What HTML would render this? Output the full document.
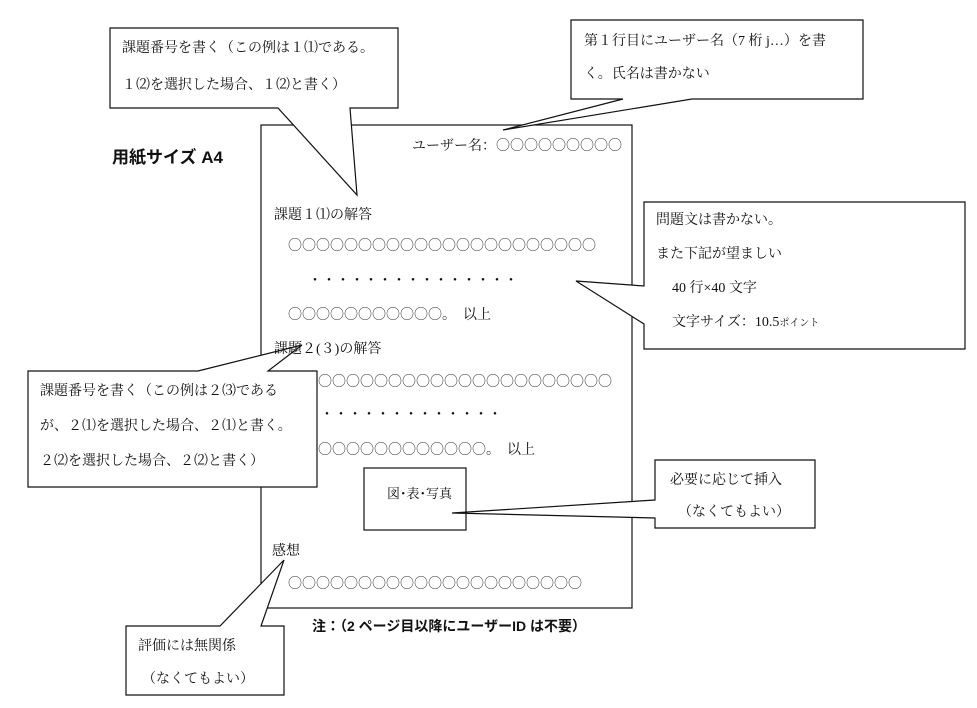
<!DOCTYPE html>
<html><head><meta charset="utf-8"><style>
html,body{margin:0;padding:0;background:#fff;}
svg{display:block;}
text{font-family:"Liberation Serif","Noto Serif CJK SC","Noto Sans CJK JP",serif;font-size:14px;fill:#111;}
.g{font-family:"Liberation Sans","Noto Sans CJK JP",sans-serif;font-weight:bold;}
.o{font-family:"Noto Sans CJK JP",sans-serif;fill:#333;font-size:14px;}
</style></head><body>
<svg width="977" height="708" viewBox="0 0 977 708" xmlns="http://www.w3.org/2000/svg">
<g fill="#fff" stroke="#111" stroke-width="1.2">
<rect x="261" y="125" width="371" height="483"/>
<rect x="364" y="468" width="102" height="62"/>
<path d="M110,28 H398 V108 H350 L357,195 L278,108 H110 Z"/>
<path d="M571,20 H863 V99 H692 L503,130 L623,99 H571 Z"/>
<path d="M644,202 H965 V349 H644 V324 L576,281 L644,286 Z"/>
<path d="M28,371 H198 L302,345 L268,371 H317 V487 H28 Z"/>
<path d="M655,460 H815 V528 H655 V518 L452,513 L655,500 Z"/>
<path d="M126,626 H220 L284,560 L261,626 H284 V695 H126 Z"/>
</g>
<text class="g" x="112" y="163" style="font-size:17px">用紙サイズ A4</text>
<text x="122" y="52">課題番号を書く（この例は１⑴である。</text>
<text x="122" y="89">１⑵を選択した場合、１⑵と書く）</text>
<text x="584" y="45">第１行目にユーザー名（7 桁 j…）を書</text>
<text x="584" y="78">く。氏名は書かない</text>
<text x="412" y="150">ユーザー名：<tspan class="o">○○○○○○○○○</tspan></text>
<text x="274" y="219">課題１⑴の解答</text>
<text class="o" x="288" y="250">○○○○○○○○○○○○○○○○○○○○○○</text>
<text x="308" y="285">・・・・・・・・・・・・・・・</text>
<text x="288" y="319"><tspan class="o">○○○○○○○○○○○</tspan>。　以上</text>
<text x="274" y="353">課題２(３)の解答</text>
<text class="o" x="318" y="386">○○○○○○○○○○○○○○○○○○○○○</text>
<text x="320" y="419">・・・・・・・・・・・・・</text>
<text x="318" y="454"><tspan class="o">○○○○○○○○○○○○</tspan>。　以上</text>
<text x="656" y="224">問題文は書かない。</text>
<text x="656" y="258">また下記が望ましい</text>
<text x="672" y="292">40 行×40 文字</text>
<text x="672" y="326">文字サイズ：10.5<tspan style="font-size:10px">ポイント</tspan></text>
<text x="40" y="395">課題番号を書く（この例は２⑶である</text>
<text x="40" y="430">が、２⑴を選択した場合、２⑴と書く。</text>
<text x="40" y="465">２⑵を選択した場合、２⑵と書く）</text>
<text x="387" y="498" style="font-size:13px">図･表･写真</text>
<text x="670" y="484">必要に応じて挿入</text>
<text x="678" y="516">（なくてもよい）</text>
<text x="272" y="555">感想</text>
<text class="o" x="288" y="588">○○○○○○○○○○○○○○○○○○○○○</text>
<text class="g" x="312" y="631" style="font-size:14px">注：（2 ページ目以降にユーザーID は不要）</text>
<text x="138" y="650">評価には無関係</text>
<text x="142" y="683">（なくてもよい）</text>
</svg>
</body></html>
